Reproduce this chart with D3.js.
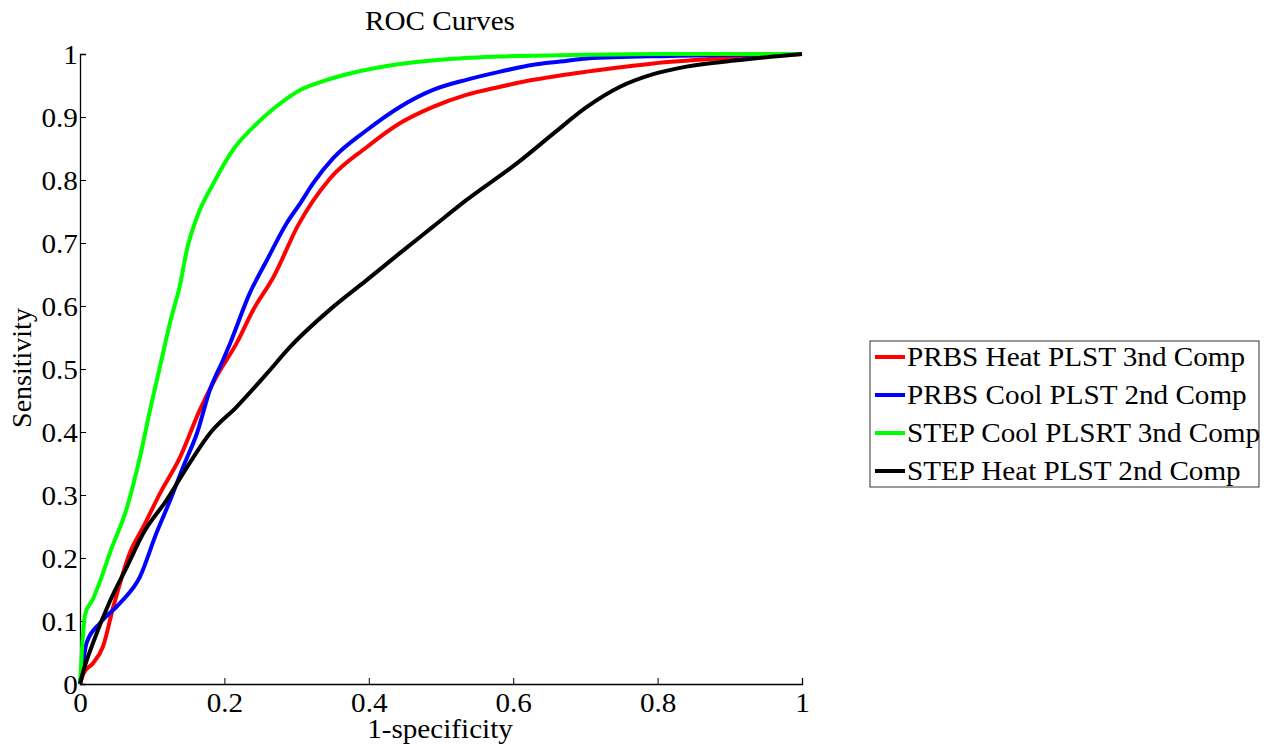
<!DOCTYPE html>
<html>
<head>
<meta charset="utf-8">
<script src="https://cdn.jsdelivr.net/npm/d3@7"></script>
<style>
  body { margin: 0; background: #fff; }
  svg text { font-family: "Liberation Serif", "Times New Roman", serif; fill: #000; }
</style>
</head>
<body>
<div id="chart"></div>
<script>
// Datos de las curvas ROC: [1-especificidad, sensibilidad]
const prbsHeat = [[0,0],[0.005,0.017],[0.018,0.033],[0.032,0.06],[0.046,0.122],[0.069,0.208],[0.088,0.25],[0.111,0.303],[0.139,0.361],[0.166,0.435],[0.189,0.488],[0.217,0.541],[0.24,0.594],[0.268,0.646],[0.302,0.728],[0.346,0.802],[0.397,0.852],[0.443,0.89],[0.489,0.916],[0.535,0.935],[0.582,0.948],[0.628,0.959],[0.665,0.966],[0.702,0.972],[0.794,0.985],[0.886,0.993],[1,1]];
const prbsCool = [[0,0],[0.005,0.04],[0.009,0.065],[0.028,0.097],[0.055,0.128],[0.083,0.17],[0.106,0.24],[0.125,0.292],[0.143,0.345],[0.162,0.398],[0.18,0.467],[0.198,0.514],[0.208,0.541],[0.235,0.62],[0.259,0.673],[0.286,0.731],[0.305,0.763],[0.323,0.795],[0.351,0.835],[0.397,0.879],[0.443,0.916],[0.489,0.943],[0.535,0.959],[0.582,0.972],[0.628,0.983],[0.665,0.988],[0.702,0.993],[0.817,0.997],[1,1]];
const stepCool = [[0,0],[0.003,0.06],[0.007,0.11],[0.018,0.135],[0.03,0.17],[0.042,0.21],[0.065,0.28],[0.083,0.36],[0.097,0.435],[0.111,0.505],[0.125,0.575],[0.139,0.636],[0.148,0.689],[0.162,0.741],[0.185,0.795],[0.212,0.848],[0.24,0.884],[0.27,0.915],[0.305,0.943],[0.34,0.958],[0.374,0.969],[0.443,0.984],[0.512,0.992],[0.582,0.996],[0.665,0.998],[0.8,1],[1,1]];
const stepHeat = [[0,0],[0.005,0.022],[0.018,0.065],[0.042,0.133],[0.065,0.186],[0.088,0.24],[0.12,0.292],[0.152,0.351],[0.18,0.398],[0.217,0.44],[0.259,0.493],[0.291,0.535],[0.351,0.599],[0.397,0.641],[0.443,0.684],[0.489,0.726],[0.535,0.768],[0.609,0.83],[0.656,0.874],[0.702,0.916],[0.748,0.948],[0.794,0.968],[0.84,0.98],[0.91,0.99],[1,1]];

const seriesNames = ["PRBS Heat PLST 3nd Comp", "PRBS Cool PLST 2nd Comp", "STEP Cool PLSRT 3nd Comp", "STEP Heat PLST 2nd Comp"];
const seriesData = [prbsHeat, prbsCool, stepCool, stepHeat];
const seriesColors = ["#ff0000", "#0000ff", "#00ff00", "#000000"];

const xTicks = [0, 0.2, 0.4, 0.6, 0.8, 1];
const yTicks = [0, 0.1, 0.2, 0.3, 0.4, 0.5, 0.6, 0.7, 0.8, 0.9, 1];

// Configuración
const width = 1270, height = 746;
const plot = { left: 80, right: 802, top: 54, bottom: 684 };
const fontSize = 27;
const stretch = "scale(1.08,1)"; // el texto original está algo ensanchado

const svg = d3.select("#chart").append("svg")
    .attr("width", width)
    .attr("height", height);

const x = d3.scaleLinear().domain([0, 1]).range([plot.left, plot.right]);
const y = d3.scaleLinear().domain([0, 1]).range([plot.bottom, plot.top]);

// Ejes (ticks hacia dentro, estilo MATLAB)
const fmt = d => d3.format("~g")(d);

const xAxis = svg.append("g")
    .attr("transform", `translate(0,${plot.bottom})`)
    .call(d3.axisBottom(x).tickValues(xTicks).tickFormat(fmt).tickSizeInner(-6).tickSizeOuter(-6).tickPadding(9));

const yAxis = svg.append("g")
    .attr("transform", `translate(${plot.left},0)`)
    .call(d3.axisLeft(y).tickValues(yTicks).tickFormat(fmt).tickSizeInner(-6).tickSizeOuter(-6).tickPadding(2));

[xAxis, yAxis].forEach(g => {
    g.select(".domain").attr("stroke", "#000").attr("stroke-width", 1.3);
    g.selectAll(".tick line").attr("stroke", "#000").attr("stroke-width", 1);
    g.selectAll(".tick text")
        .attr("font-size", fontSize)
        .attr("font-family", null)
        .attr("transform", stretch);
});
xAxis.selectAll(".tick text").attr("dy", "0.72em");
yAxis.selectAll(".tick text").attr("dy", "0.35em");

// Curvas
const line = d3.line()
    .x(d => x(d[0]))
    .y(d => y(d[1]))
    .curve(d3.curveMonotoneX);

svg.append("g").selectAll("path")
    .data(seriesData)
    .enter()
    .append("path")
    .attr("d", line)
    .attr("fill", "none")
    .attr("stroke", (_, i) => seriesColors[i])
    .attr("stroke-width", 4)
    .attr("stroke-linejoin", "round");

// Títulos
svg.append("text")
    .attr("transform", `translate(440,30) ${stretch}`)
    .attr("text-anchor", "middle")
    .attr("font-size", fontSize)
    .text("ROC Curves");

svg.append("text")
    .attr("transform", `translate(440,738) ${stretch}`)
    .attr("text-anchor", "middle")
    .attr("font-size", fontSize)
    .text("1-specificity");

svg.append("text")
    .attr("transform", "translate(31,368) rotate(-90)")
    .attr("text-anchor", "middle")
    .attr("font-size", fontSize + 1)
    .text("Sensitivity");

// Leyenda
const legend = svg.append("g").attr("transform", "translate(870,341)");
legend.append("rect")
    .attr("width", 389).attr("height", 146)
    .attr("fill", "#fff")
    .attr("stroke", "#333")
    .attr("stroke-width", 1);

const items = legend.selectAll(".item")
    .data(seriesNames)
    .enter()
    .append("g")
    .attr("transform", (_, i) => `translate(0,${16 + i * 38})`);

items.append("line")
    .attr("x1", 5).attr("x2", 35)
    .attr("stroke", (_, i) => seriesColors[i])
    .attr("stroke-width", 4);

items.append("text")
    .attr("transform", `translate(37,0) ${stretch}`)
    .attr("dy", "0.33em")
    .attr("font-size", fontSize)
    .text(d => d);
</script>
</body>
</html>
